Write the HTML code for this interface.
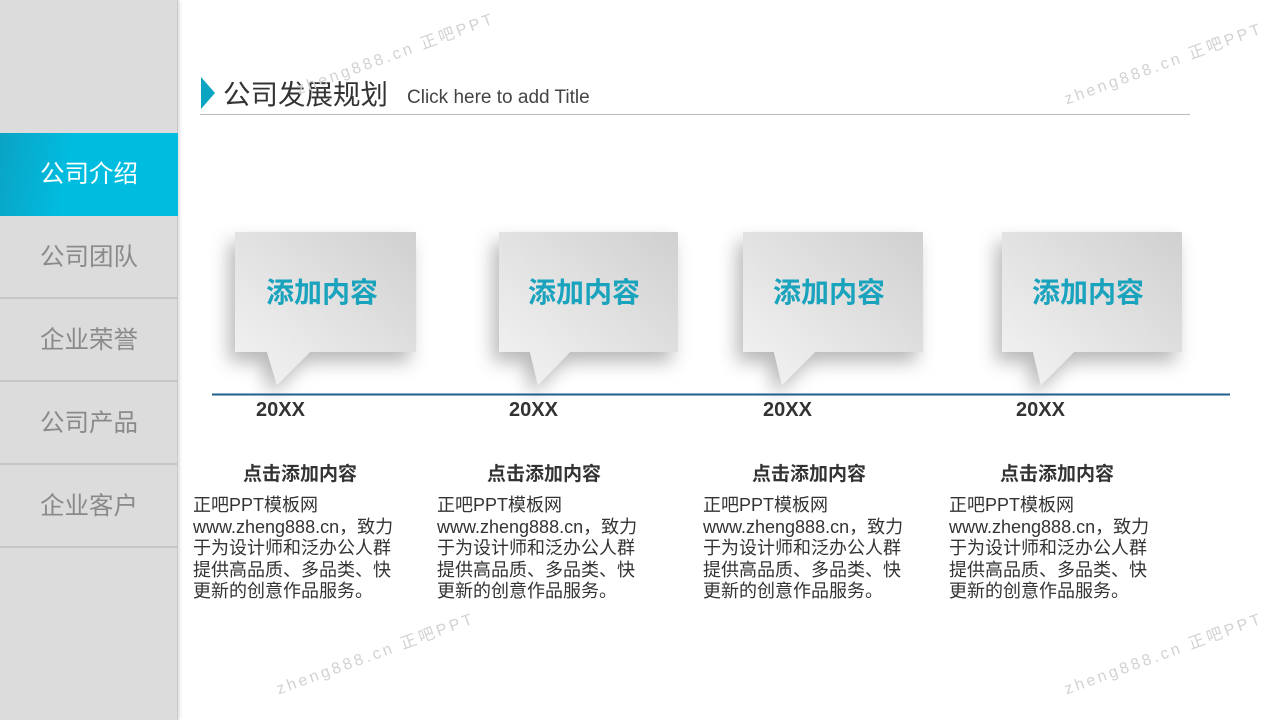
<!DOCTYPE html>
<html><head><meta charset="utf-8"><style>
*{margin:0;padding:0;box-sizing:border-box}
body{width:1280px;height:720px;background:#fff;position:relative;overflow:hidden;font-family:"Liberation Sans","Noto Sans CJK SC",sans-serif}
.side{position:absolute;left:0;top:0;width:178px;height:720px;background:#dcdcdc;border-right:1px solid #c8c8c8;box-shadow:2px 0 3px rgba(0,0,0,.12)}
.item{position:absolute;left:0;width:178px;height:83px;line-height:83px;text-align:center;font-size:24.5px;color:#8a8a8a;border-bottom:2px solid #c6c6c6}
.act{background:linear-gradient(100deg,#0aa3c4,#00bde0 40%,#00bde0);color:#fff;border-bottom:none}
.abs{position:absolute}
.yr{position:absolute;top:399px;font-size:20px;font-weight:bold;color:#333}
.hd{position:absolute;top:459px;width:240px;text-align:center;font-size:19px;font-weight:bold;color:#333}
.tx{position:absolute;top:495px;width:240px;font-size:18px;line-height:21.5px;color:#333}
.wm{position:absolute;font-size:16px;color:#d2d2d2;letter-spacing:3px;transform:rotate(-20deg);white-space:nowrap}
</style></head><body>
<div class="side">
<div class="item act" style="top:133px">公司介绍</div>
<div class="item" style="top:216px">公司团队</div>
<div class="item" style="top:299px">企业荣誉</div>
<div class="item" style="top:382px">公司产品</div>
<div class="item" style="top:465px">企业客户</div>
</div>
<div class="abs" style="left:201px;top:77px;width:0;height:0;border-top:16px solid transparent;border-bottom:16px solid transparent;border-left:14px solid #0aa5c0"></div>
<div class="abs" style="left:223px;top:78px;font-size:27.5px;color:#333;line-height:34px">公司发展规划</div>
<div class="abs" style="left:407px;top:86px;font-size:19px;color:#444;line-height:24px">Click here to add Title</div>
<div class="abs" style="left:200px;top:114px;width:990px;height:1px;background:#bbb"></div>

<svg class="abs" style="left:0;top:0" width="1280" height="720">
<defs>
<linearGradient id="g" x1="0" y1="1" x2="1" y2="0"><stop offset="0" stop-color="#f4f4f4"/><stop offset="1" stop-color="#d0d0d0"/></linearGradient>
<filter id="s" x="-30%" y="-30%" width="160%" height="170%"><feDropShadow dx="-6" dy="10" stdDeviation="9" flood-color="#000" flood-opacity=".28"/></filter>
</defs>
<g filter="url(#s)">
<path d="M235 232H416V352H310L277 385L267 352H235Z" fill="url(#g)"/>
<path d="M499 232H678V352H570L538 385L530 352H499Z" fill="url(#g)"/>
<path d="M743 232H923V352H815L782 385L774 352H743Z" fill="url(#g)"/>
<path d="M1002 232H1182V352H1074L1041 385L1033 352H1002Z" fill="url(#g)"/>
</g>
<line x1="212" y1="394.5" x2="1230" y2="394.5" stroke="#1f5f8b" stroke-width="2"/>
<g font-family="Liberation Sans,Noto Sans CJK SC,sans-serif" font-size="28" font-weight="bold" fill="#1aa3bd" text-anchor="middle">
<text x="322" y="302">添加内容</text>
<text x="584" y="302">添加内容</text>
<text x="829" y="302">添加内容</text>
<text x="1088" y="302">添加内容</text>
</g>
</svg>

<div class="yr" style="left:256px">20XX</div>
<div class="yr" style="left:509px">20XX</div>
<div class="yr" style="left:763px">20XX</div>
<div class="yr" style="left:1016px">20XX</div>

<div class="hd" style="left:180px">点击添加内容</div>
<div class="hd" style="left:424px">点击添加内容</div>
<div class="hd" style="left:689px">点击添加内容</div>
<div class="hd" style="left:937px">点击添加内容</div>

<div class="tx" style="left:193px">正吧PPT模板网<br>www.zheng888.cn，致力<br>于为设计师和泛办公人群<br>提供高品质、多品类、快<br>更新的创意作品服务。</div>
<div class="tx" style="left:437px">正吧PPT模板网<br>www.zheng888.cn，致力<br>于为设计师和泛办公人群<br>提供高品质、多品类、快<br>更新的创意作品服务。</div>
<div class="tx" style="left:703px">正吧PPT模板网<br>www.zheng888.cn，致力<br>于为设计师和泛办公人群<br>提供高品质、多品类、快<br>更新的创意作品服务。</div>
<div class="tx" style="left:949px">正吧PPT模板网<br>www.zheng888.cn，致力<br>于为设计师和泛办公人群<br>提供高品质、多品类、快<br>更新的创意作品服务。</div>

<div class="wm" style="left:1058px;top:50px">zheng888.cn 正吧PPT</div>
<div class="wm" style="left:270px;top:640px">zheng888.cn 正吧PPT</div>
<div class="wm" style="left:1058px;top:640px">zheng888.cn 正吧PPT</div>
<div class="wm" style="left:290px;top:40px">zheng888.cn 正吧PPT</div>
</body></html>
